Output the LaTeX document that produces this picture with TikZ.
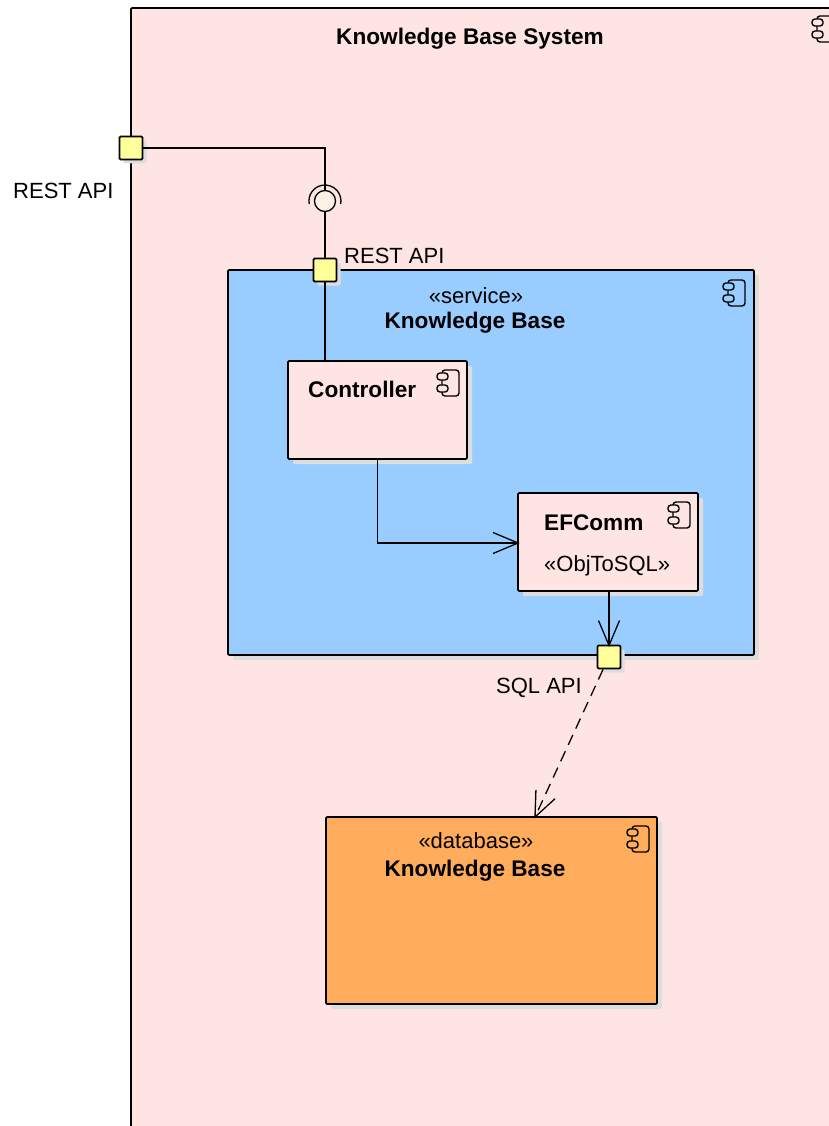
\documentclass[tikz,border=0pt]{standalone}
\usepackage{fontspec}
\setmainfont{Liberation Sans}
\usetikzlibrary{arrows.meta,shadows,calc}
\definecolor{sysfill}{HTML}{FFE4E4}
\definecolor{svcfill}{HTML}{99CCFF}
\definecolor{dbfill}{HTML}{FFAD5C}
\definecolor{portfill}{HTML}{FFFF99}
\definecolor{lollifill}{HTML}{FBF1E4}
\definecolor{shade}{HTML}{DDDDDD}
\pgfdeclarearrow{
  name=VBarb,
  parameters={\the\pgfarrowlength,\the\pgfarrowwidth},
  setup code={
    \pgfarrowssettipend{0pt}
    \pgfarrowssetlineend{-1pt}
    \pgfarrowssetvisualbackend{-\pgfarrowlength}
    \pgfarrowssetbackend{-\pgfarrowlength}
    \pgfarrowssavethe\pgfarrowlength
    \pgfarrowssavethe\pgfarrowwidth
  },
  drawing code={
    \pgfsetdash{}{0pt}
    \pgfsetmiterjoin
    \pgfpathmoveto{\pgfqpoint{-\pgfarrowlength}{0.5\pgfarrowwidth}}
    \pgfpathlineto{\pgfqpoint{0pt}{0pt}}
    \pgfpathlineto{\pgfqpoint{-\pgfarrowlength}{-0.5\pgfarrowwidth}}
    \pgfusepathqstroke
  },
  defaults={length=25pt,width=21pt}
}
\tikzset{
  x=1pt,y=-1pt,
  outline/.style={draw=black,line width=1.8pt,rounded corners=1.2pt,outer sep=0pt},
  comp/.style={outline,anchor=north west,inner sep=0pt,
    drop shadow={shadow xshift=5pt,shadow yshift=-5pt,fill=shade,opacity=1}},
  portbox/.style={outline,fill=portfill,minimum size=23pt,inner sep=0pt,
    drop shadow={shadow xshift=4pt,shadow yshift=-4pt,fill=shade,opacity=1}},
  wire/.style={draw=black,line width=1.3pt},
  vtip/.style={-{VBarb[length=25pt,width=21pt]}},
  lab/.style={font=\fontsize{22}{24}\selectfont,inner sep=0pt,anchor=base},
  labb/.style={font=\fontsize{22.6}{24}\selectfont\bfseries,inner sep=0pt,anchor=base},
  iconline/.style={draw=black,line width=1.4pt,rounded corners=3pt},
  pics/compicon/.style={code={
    \draw[iconline] (0,-13) -- (17,-13) -- (17,13) -- (0,13) -- cycle;
    \draw[iconline,fill=#1] (-5,-10) rectangle (6,-3);
    \draw[iconline,fill=#1] (-5,2) rectangle (6,9);
  }},
}
\begin{document}
\begin{tikzpicture}
\useasboundingbox (0,0) rectangle (829,1126);
\begin{scope}
\clip (0,0) rectangle (829,1126);
\node[outline,anchor=north west,fill=sysfill,minimum width=760pt,minimum height=1180pt,inner sep=0pt] (sys) at (131,8) {};
\path (817,29) pic {compicon=sysfill};
\end{scope}
\node[labb] (systitle) at (470,44.5) {Knowledge Base System};

\node[comp,fill=svcfill,minimum width=526pt,minimum height=385pt] (svc) at (228,270) {};
\node[lab] (svcst) at (476,303) {«service»};
\node[labb] (svcname) at (475,328) {Knowledge Base};
\path (728,293) pic {compicon=svcfill};

\node[comp,fill=sysfill,minimum width=179pt,minimum height=98pt] (ctrl) at (288,361) {};
\node[labb,anchor=base west] (ctrlname) at (308,397.5) {Controller};
\path (442,383) pic {compicon=sysfill};

\node[comp,fill=sysfill,minimum width=180pt,minimum height=98pt] (ef) at (518,493) {};
\node[labb,anchor=base west] (efname) at (544,530) {EFComm};
\node[lab,anchor=base west] (efst) at (544,571) {«ObjToSQL»};
\path (673,515) pic {compicon=sysfill};
\coordinate (efin) at ($(ef.west)+(0,1)$);

\node[comp,fill=dbfill,minimum width=331pt,minimum height=187pt] (db) at (326,817) {};
\node[lab] (dbst) at (476,848) {«database»};
\node[labb] (dbname) at (475,876) {Knowledge Base};
\path (632,839) pic {compicon=dbfill};
\coordinate (dbin) at ($(db.north west)+(209,0)$);

\node[circle,draw=black,line width=1.3pt,fill=lollifill,minimum size=21pt,inner sep=0pt,outer sep=0pt] (lolli) at (325,201) {};
\draw[wire] ($(lolli)+(-15.8,2.8)$) arc[start angle=190,end angle=-10,radius=16pt];

\node[lab,anchor=base west] (portl1) at (13,198) {REST API};
\node[lab,anchor=base west] (portl2) at (344,263) {REST API};
\node[lab,anchor=base west] (portl3) at (496,693) {SQL API};

\node[portbox] (p1) at (131,148) {};
\node[portbox] (p2) at (325,270) {};
\node[portbox] (p3) at (609,657) {};
\coordinate (p3out) at ($(p3.south)+(-6,1)$);

\draw[wire] (p1.east) -| (lolli.north);
\draw[wire] (lolli.south) -- (p2.north);
\draw[wire] (p2.south) -- (p2.south |- ctrl.north);
\draw[wire,vtip] (ctrl.south) |- (efin);
\draw[wire,vtip] (p3.north |- ef.south) -- (p3.north);
\draw[wire,vtip,dash pattern=on 11pt off 7pt] (p3out) -- (dbin);
\end{tikzpicture}
\end{document}
